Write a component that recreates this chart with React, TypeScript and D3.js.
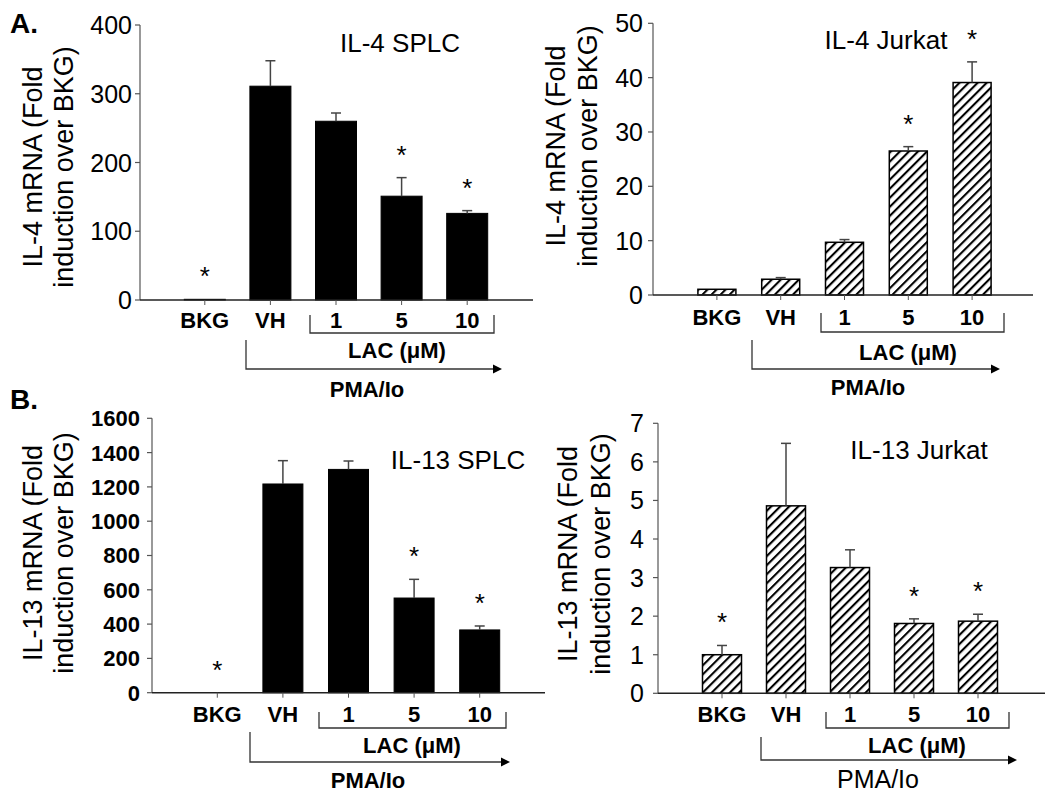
import React from "react";
import * as d3 from "d3";

const categories = ["BKG", "VH", "1", "5", "10"];

const il4SplcValues = [1, 311, 260, 151, 126];
const il4SplcErrors = [0, 37, 12, 27, 4];
const il4SplcStars = [true, false, false, true, true];
const il4SplcTicks = [0, 100, 200, 300, 400];

const il4JurkatValues = [1.05, 2.9, 9.7, 26.5, 39.1];
const il4JurkatErrors = [0, 0.3, 0.5, 0.8, 3.8];
const il4JurkatStars = [false, false, false, true, true];
const il4JurkatTicks = [0, 10, 20, 30, 40, 50];

const il13SplcValues = [0, 1217, 1302, 552, 366];
const il13SplcErrors = [0, 136, 49, 109, 23];
const il13SplcStars = [true, false, false, true, true];
const il13SplcTicks = [0, 200, 400, 600, 800, 1000, 1200, 1400, 1600];

const il13JurkatValues = [1.0, 4.86, 3.26, 1.81, 1.87];
const il13JurkatErrors = [0.24, 1.62, 0.46, 0.12, 0.18];
const il13JurkatStars = [true, false, false, true, true];
const il13JurkatTicks = [0, 1, 2, 3, 4, 5, 6, 7];

const FONT = "'Liberation Sans', Arial, Helvetica, sans-serif";

type PanelProps = {
  title: string;
  ylabel1: string;
  ylabel2: string;
  values: number[];
  errors: number[];
  stars: boolean[];
  ticks: number[];
  hatched: boolean;
  axisX: number;
  yTop: number;
  y0: number;
  xRange: [number, number];
  xEnd: number;
  barWidth: number;
  tickPad: number;
  tickBold: boolean;
  tickSize: number;
  title_x: number;
  title_y: number;
  yl1x: number;
  yl2x: number;
  ylc: number;
  catBaseline: number;
  bracketY: number;
  bracketX1: number;
  bracketX2: number;
  bracketTop: number;
  lacX: number;
  lacY: number;
  pmaX: number;
  pmaY1: number;
  pmaY2: number;
  pmaX2: number;
  pmaLabelX: number;
  pmaLabelY: number;
  pmaBold: boolean;
};

function Panel(p: PanelProps) {
  const domainMax = p.ticks[p.ticks.length - 1];
  const y = d3.scaleLinear().domain([0, domainMax]).range([p.y0, p.yTop]);
  const x = d3.scaleBand<string>().domain(categories).range(p.xRange).paddingInner(0).paddingOuter(0);
  const cx = (c: string) => (x(c) as number) + x.bandwidth() / 2;
  const fmt = d3.format("d");

  return (
    <g>
      {/* bars */}
      {categories.map((c, i) => {
        const v = p.values[i];
        const top = y(v);
        return (
          <rect
            key={"b" + c}
            x={cx(c) - p.barWidth / 2}
            y={top}
            width={p.barWidth}
            height={Math.max(0, p.y0 - top)}
            fill={p.hatched ? "url(#hatch)" : "#000"}
            stroke="#000"
            strokeWidth={p.hatched ? 1.5 : 1}
          />
        );
      })}
      {/* error bars */}
      {categories.map((c, i) => {
        const e = p.errors[i];
        if (!e) return null;
        const top = y(p.values[i]);
        const et = y(p.values[i] + e);
        return (
          <g key={"e" + c} stroke="#444" strokeWidth={1.5}>
            <line x1={cx(c)} x2={cx(c)} y1={top} y2={et} />
            <line x1={cx(c) - 5} x2={cx(c) + 5} y1={et} y2={et} />
          </g>
        );
      })}
      {/* stars */}
      {categories.map((c, i) => {
        if (!p.stars[i]) return null;
        const et = y(p.values[i] + p.errors[i]);
        return (
          <text key={"s" + c} x={cx(c)} y={et - 14} textAnchor="middle" fontSize={26} fontFamily={FONT} fill="#000">
            *
          </text>
        );
      })}
      {/* y axis */}
      <line x1={p.axisX} x2={p.axisX} y1={p.y0} y2={p.yTop} stroke="#555" strokeWidth={1.2} />
      {p.ticks.map((t) => (
        <g key={"t" + t}>
          <line x1={p.axisX - 5} x2={p.axisX} y1={y(t)} y2={y(t)} stroke="#555" strokeWidth={1.2} />
          <text
            x={p.axisX - p.tickPad}
            y={y(t)}
            dy="0.36em"
            textAnchor="end"
            fontSize={p.tickSize}
            fontWeight={p.tickBold ? "bold" : "normal"}
            fontFamily={FONT}
            fill="#000"
          >
            {fmt(t)}
          </text>
        </g>
      ))}
      {/* x axis */}
      <line x1={p.axisX} x2={p.xEnd} y1={p.y0} y2={p.y0} stroke="#222" strokeWidth={1.5} />
      {categories.map((c) => (
        <g key={"x" + c}>
          <line x1={cx(c)} x2={cx(c)} y1={p.y0} y2={p.y0 + 5} stroke="#555" strokeWidth={1} />
          <text x={cx(c)} y={p.catBaseline} textAnchor="middle" fontSize={22} fontWeight="bold" fontFamily={FONT} fill="#000">
            {c}
          </text>
        </g>
      ))}
      {/* title */}
      <text x={p.title_x} y={p.title_y} dy="0.36em" textAnchor="middle" fontSize={26} fontFamily={FONT} fill="#000">
        {p.title}
      </text>
      {/* y label */}
      <text
        transform={`translate(${p.yl1x},${p.ylc}) rotate(-90)`}
        dy="0.36em"
        textAnchor="middle"
        fontSize={27}
        fontFamily={FONT}
        fill="#000"
      >
        {p.ylabel1}
      </text>
      <text
        transform={`translate(${p.yl2x},${p.ylc}) rotate(-90)`}
        dy="0.36em"
        textAnchor="middle"
        fontSize={27}
        fontFamily={FONT}
        fill="#000"
      >
        {p.ylabel2}
      </text>
      {/* LAC bracket */}
      <path
        d={`M${p.bracketX1},${p.bracketTop}V${p.bracketY}H${p.bracketX2}V${p.bracketTop}`}
        fill="none"
        stroke="#333"
        strokeWidth={1.3}
      />
      <text x={p.lacX} y={p.lacY} textAnchor="middle" fontSize={22} fontWeight="bold" fontFamily={FONT} fill="#000">
        LAC (μM)
      </text>
      {/* PMA arrow */}
      <path d={`M${p.pmaX},${p.pmaY1}V${p.pmaY2}H${p.pmaX2 - 8}`} fill="none" stroke="#333" strokeWidth={1.3} />
      <path d={`M${p.pmaX2},${p.pmaY2}l-9,-4.5v9z`} fill="#000" />
      <text
        x={p.pmaLabelX}
        y={p.pmaLabelY}
        textAnchor="middle"
        fontSize={p.pmaBold ? 22 : 25}
        fontWeight={p.pmaBold ? "bold" : "normal"}
        fontFamily={FONT}
        fill="#000"
      >
        PMA/Io
      </text>
    </g>
  );
}

export default function App() {
  return (
    <svg width={1050} height={800} style={{ display: "block", position: "absolute", left: 0, top: 0, background: "#fff" }}>
      <defs>
        <pattern id="hatch" patternUnits="userSpaceOnUse" width={6.4} height={6.4} patternTransform="rotate(45)">
          <rect width={6.4} height={6.4} fill="#fff" />
          <line x1={1} x2={1} y1={0} y2={6.4} stroke="#000" strokeWidth={2.2} />
        </pattern>
      </defs>
      <rect width={1050} height={800} fill="#fff" />
      <text x={10} y={33} fontSize={28} fontWeight="bold" fontFamily={FONT} fill="#000">A.</text>
      <text x={10} y={409} fontSize={28} fontWeight="bold" fontFamily={FONT} fill="#000">B.</text>

      <Panel
        title="IL-4 SPLC"
        ylabel1="IL-4 mRNA (Fold"
        ylabel2="induction over BKG)"
        values={il4SplcValues}
        errors={il4SplcErrors}
        stars={il4SplcStars}
        ticks={il4SplcTicks}
        hatched={false}
        axisX={140}
        yTop={25}
        y0={300}
        xRange={[172, 500]}
        xEnd={533}
        barWidth={41}
        tickPad={8}
        tickBold={false}
        tickSize={25}
        title_x={400}
        title_y={43}
        yl1x={32}
        yl2x={63}
        ylc={167}
        catBaseline={328}
        bracketY={333}
        bracketX1={310}
        bracketX2={494}
        bracketTop={315}
        lacX={397}
        lacY={358}
        pmaX={246}
        pmaY1={340}
        pmaY2={369}
        pmaX2={502}
        pmaLabelX={367}
        pmaLabelY={397}
        pmaBold={true}
      />
      <Panel
        title="IL-4 Jurkat"
        ylabel1="IL-4 mRNA (Fold"
        ylabel2="induction over BKG)"
        values={il4JurkatValues}
        errors={il4JurkatErrors}
        stars={il4JurkatStars}
        ticks={il4JurkatTicks}
        hatched={true}
        axisX={653}
        yTop={23.3}
        y0={295}
        xRange={[685, 1004]}
        xEnd={1033}
        barWidth={38}
        tickPad={10}
        tickBold={false}
        tickSize={25}
        title_x={886}
        title_y={40}
        yl1x={555}
        yl2x={587}
        ylc={146}
        catBaseline={325}
        bracketY={332}
        bracketX1={821}
        bracketX2={1004}
        bracketTop={313}
        lacX={908}
        lacY={360}
        pmaX={752}
        pmaY1={340}
        pmaY2={369}
        pmaX2={1000}
        pmaLabelX={868}
        pmaLabelY={395}
        pmaBold={true}
      />
      <Panel
        title="IL-13 SPLC"
        ylabel1="IL-13 mRNA (Fold"
        ylabel2="induction over BKG)"
        values={il13SplcValues}
        errors={il13SplcErrors}
        stars={il13SplcStars}
        ticks={il13SplcTicks}
        hatched={false}
        axisX={152}
        yTop={418.3}
        y0={692.7}
        xRange={[184.5, 512.5]}
        xEnd={545}
        barWidth={40}
        tickPad={12}
        tickBold={true}
        tickSize={22}
        title_x={458}
        title_y={460}
        yl1x={32}
        yl2x={63}
        ylc={553}
        catBaseline={722}
        bracketY={728}
        bracketX1={319}
        bracketX2={506}
        bracketTop={712}
        lacX={412}
        lacY={753}
        pmaX={250}
        pmaY1={732}
        pmaY2={762}
        pmaX2={510}
        pmaLabelX={368}
        pmaLabelY={788}
        pmaBold={true}
      />
      <Panel
        title="IL-13 Jurkat"
        ylabel1="IL-13 mRNA (Fold"
        ylabel2="induction over BKG)"
        values={il13JurkatValues}
        errors={il13JurkatErrors}
        stars={il13JurkatStars}
        ticks={il13JurkatTicks}
        hatched={true}
        axisX={658}
        yTop={423.3}
        y0={693.3}
        xRange={[690, 1010]}
        xEnd={1045}
        barWidth={39}
        tickPad={14}
        tickBold={false}
        tickSize={25}
        title_x={919}
        title_y={450}
        yl1x={567}
        yl2x={600}
        ylc={554}
        catBaseline={722}
        bracketY={728}
        bracketX1={826}
        bracketX2={1009}
        bracketTop={712}
        lacX={917}
        lacY={753}
        pmaX={761}
        pmaY1={737}
        pmaY2={760}
        pmaX2={1017}
        pmaLabelX={878}
        pmaLabelY={788}
        pmaBold={false}
      />
    </svg>
  );
}
